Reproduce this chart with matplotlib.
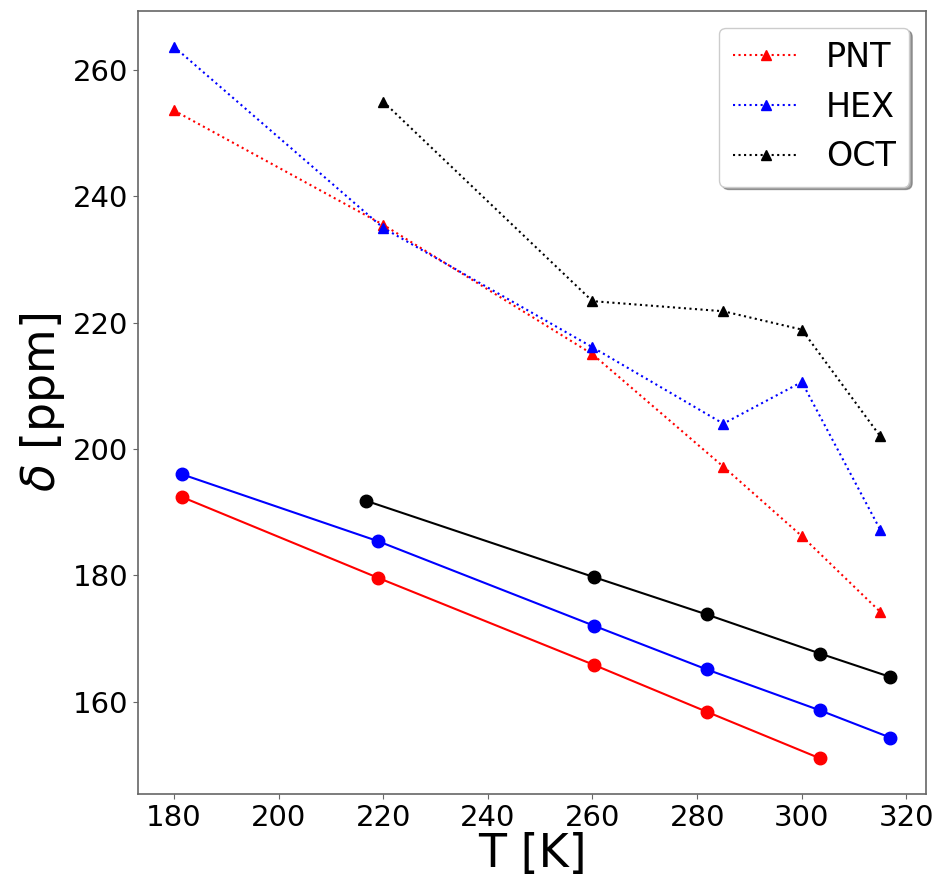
import numpy as np
import matplotlib
matplotlib.use('Agg')
import matplotlib.pyplot as plt

# --- Data ---
# dotted series (triangles)
T_tri = [180, 220, 260, 285, 300, 315]
pnt_tri = [253.6, 235.5, 215.0, 197.2, 186.2, 174.2]
hex_tri = [263.7, 235.0, 216.1, 204.0, 210.6, 187.2]
T_oct_tri = [220, 260, 285, 300, 315]
oct_tri = [255.0, 223.4, 221.8, 218.9, 202.0]

# solid series (circles)
T_red = [181.5, 219.0, 260.3, 281.8, 303.5]
red_c = [192.4, 179.6, 165.8, 158.4, 151.0]
T_blue = [181.5, 219.0, 260.3, 281.8, 303.5, 316.9]
blue_c = [196.0, 185.4, 172.0, 165.1, 158.6, 154.3]
T_black = [216.7, 260.3, 281.8, 303.5, 316.9]
black_c = [191.8, 179.7, 173.8, 167.6, 163.9]

fig = plt.figure(figsize=(9.41, 8.83), dpi=100)
ax = fig.add_axes([0.1467, 0.1008, 0.8374, 0.8867])

ax.plot(T_tri, pnt_tri, ':', color='red', marker='^', markersize=7, lw=1.5, label='PNT')
ax.plot(T_tri, hex_tri, ':', color='blue', marker='^', markersize=7, lw=1.5, label='HEX')
ax.plot(T_oct_tri, oct_tri, ':', color='black', marker='^', markersize=7, lw=1.5, label='OCT')

ax.plot(T_red, red_c, '-', color='red', marker='o', markersize=9, lw=1.5)
ax.plot(T_blue, blue_c, '-', color='blue', marker='o', markersize=9, lw=1.5)
ax.plot(T_black, black_c, '-', color='black', marker='o', markersize=9, lw=1.5)

for sp in ax.spines.values():
    sp.set_color('0.4')
    sp.set_linewidth(1.2)

ax.set_xticks(np.arange(180, 321, 20))
ax.set_yticks(np.arange(160, 261, 20))
ax.tick_params(labelsize=21, color='0.4')
ax.set_xlabel('T [K]', fontsize=33, labelpad=0)
ax.set_ylabel(r'$\delta$ [ppm]', fontsize=33, labelpad=4)

ax.legend(loc='upper right', fontsize=24, shadow=True, fancybox=True)

fig.savefig('out.png', dpi=100)
